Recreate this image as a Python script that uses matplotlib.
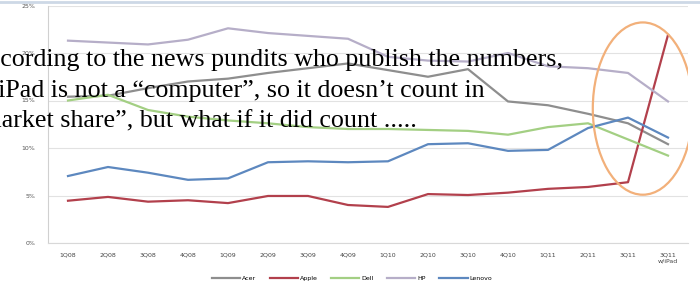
import matplotlib
matplotlib.use("Agg")
import matplotlib.pyplot as plt
from matplotlib.patches import Ellipse
from matplotlib.lines import Line2D

# quarterly PC market share (%)
quarters = ["1Q08", "2Q08", "3Q08", "4Q08", "1Q09", "2Q09", "3Q09", "4Q09",
            "1Q10", "2Q10", "3Q10", "4Q10", "1Q11", "2Q11", "3Q11", "3Q11\nw/iPad"]
acer = [15.4, 15.5, 16.3, 17.0, 17.3, 17.9, 18.4, 18.9,
        18.2, 17.5, 18.3, 14.9, 14.5, 13.6, 12.6, 10.4]
apple = [4.45, 4.85, 4.35, 4.5, 4.2, 4.95, 4.95, 4.0,
         3.8, 5.15, 5.05, 5.3, 5.7, 5.9, 6.4, 21.9]
dell = [15.0, 15.6, 14.0, 13.3, 12.9, 12.6, 12.2, 12.0,
        12.0, 11.9, 11.8, 11.4, 12.2, 12.6, 10.9, 9.2]
hp = [21.3, 21.1, 20.9, 21.4, 22.6, 22.1, 21.8, 21.5,
      19.6, 19.2, 19.1, 20.0, 18.6, 18.4, 17.9, 14.9]
lenovo = [7.05, 8.0, 7.4, 6.65, 6.8, 8.5, 8.6, 8.5,
          8.6, 10.4, 10.5, 9.7, 9.8, 12.1, 13.2, 11.1]

series = [("Acer", acer, "#8e8e8e"),
          ("Apple", apple, "#b2404c"),
          ("Dell", dell, "#a3cf83"),
          ("HP", hp, "#b6aec8"),
          ("Lenovo", lenovo, "#5d88bf")]

ytick_vals = [0, 5, 10, 15, 20, 25]
ytick_labels = ["0%", "5%", "10%", "15%", "20%", "25%"]

note = ["According to the news pundits who publish the numbers,",
        "the iPad is not a \u201ccomputer\u201d, so it doesn\u2019t count in",
        "\u201cmarket share\u201d, but what if it did count ....."]

fig = plt.figure(figsize=(7.0, 2.86), dpi=100)
ax = fig.add_axes([48 / 700, 1 - 243 / 286, 640 / 700, 237.5 / 286])

x = list(range(len(quarters)))
for name, vals, col in series:
    ax.plot(x, vals, color=col, lw=1.6, label=name, solid_joinstyle="round")

# highlight the iPad jump
n = len(quarters)
cy = (apple[-2] + apple[-1]) / 2
hgt = (apple[-1] - apple[-2]) * 1.17
ax.add_patch(Ellipse((n - 1.63, cy), 2.5, hgt, fill=False,
                     edgecolor="#f2b07a", lw=1.6, zorder=5))

ax.set_xlim(-0.5, n - 0.5)
ax.set_ylim(0, 25)
ax.set_yticks(ytick_vals)
ax.set_yticklabels(ytick_labels, fontsize=4.5, color="#555555")
ax.set_xticks(x)
ax.set_xticklabels(quarters, fontsize=4.5, color="#444444")
ax.tick_params(axis="both", length=0, pad=7)
ax.tick_params(axis="y", pad=9)
ax.grid(axis="y", color="#e2e2e2", lw=0.8)
ax.set_axisbelow(True)
for s in ["top", "right"]:
    ax.spines[s].set_visible(False)
ax.spines["left"].set_color("#d0d0d0")
ax.spines["bottom"].set_color("#d8d8d8")

fig.legend(loc="center", bbox_to_anchor=(352 / 700, 1 - 278 / 286), ncol=5,
           frameon=False, fontsize=4.5, handlelength=4.5, columnspacing=2.2,
           handletextpad=0.3)

# faint frame line at the top of the picture
fig.add_artist(Line2D([0, 1], [0.994, 0.994], transform=fig.transFigure,
                      color="#cdd8e6", lw=2))

# the overlaid caption, cut off at the left edge as in the screenshot
lefts = [-30, -40, -30]
baselines = [66, 96.5, 127]
for line, xl, yb in zip(note, lefts, baselines):
    fig.text(xl / 700, 1 - yb / 286, line, family="Liberation Serif",
             fontsize=18.7, va="baseline", ha="left", color="black", zorder=10)

fig.savefig("out.png", dpi=100)
